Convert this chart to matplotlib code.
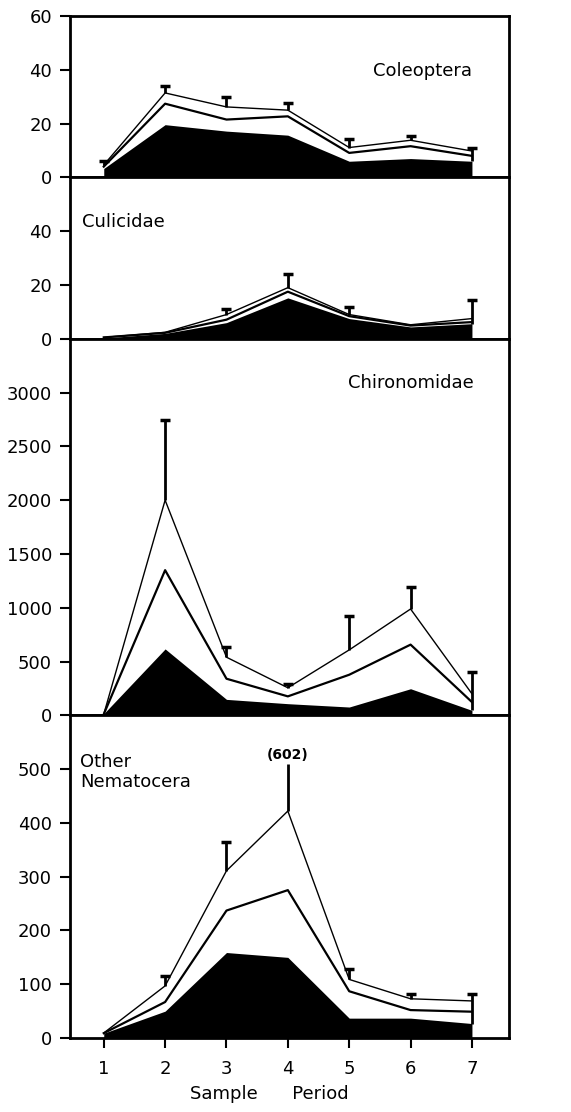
import numpy as np
import matplotlib.pyplot as plt

plt.rcParams['font.family'] = ['DejaVu Sans']

periods = [1, 2, 3, 4, 5, 6, 7]

# Coleoptera
col_fill = [3.3, 19.6, 17.2, 15.7, 6.0, 7.0, 6.0]
col_mid = [4.0, 27.4, 21.5, 22.7, 9.1, 11.6, 8.0]
col_top = [4.6, 31.4, 26.2, 25.0, 11.1, 13.8, 9.8]
col_err = [6.2, 34.0, 30.0, 27.8, 14.4, 15.3, 11.1]

# Culicidae
cul_fill = [0.3, 2.0, 6.0, 15.2, 7.5, 4.4, 5.6]
cul_mid = [0.5, 2.2, 7.1, 17.5, 8.4, 4.9, 6.2]
cul_top = [0.5, 2.4, 9.0, 19.0, 9.0, 5.2, 7.5]
cul_err = [np.nan, np.nan, 10.9, 24.0, 11.7, np.nan, 14.4]

# Chironomidae
chi_fill = [15, 617, 148, 108, 77, 247, 46]
chi_mid = [10, 1349, 340, 176, 377, 657, 123]
chi_top = [10, 2000, 540, 256, 608, 988, 200]
chi_err = [np.nan, 2741, 633, 287, 926, 1188, 407]

# Other Nematocera
nem_fill = [9, 50, 159, 150, 37, 37, 27]
nem_mid = [9, 67, 237, 275, 87, 52, 49]
nem_top = [9.4, 97, 311, 422, 109, 73, 69]
nem_err = [np.nan, 116, 364, 602, 129, 81, 81]

panels = [
    ("Coleoptera", col_fill, col_mid, col_top, col_err, 60, [0, 20, 40, 60]),
    ("Culicidae", cul_fill, cul_mid, cul_top, cul_err, 60, [0, 20, 40]),
    ("Chironomidae", chi_fill, chi_mid, chi_top, chi_err, 3500, [0, 500, 1000, 1500, 2000, 2500, 3000]),
    ("Other\nNematocera", nem_fill, nem_mid, nem_top, nem_err, 600, [0, 100, 200, 300, 400, 500]),
]
label_pos = [(5.38, 39.5, 'left'), (0.64, 43.5, 'left'), (4.98, 3090, 'left'), (0.62, 494, 'left')]
bar_clip = [None, None, None, 510]

fig, axes = plt.subplots(4, 1, figsize=(5.71, 11.12), dpi=100, sharex=True,
                         gridspec_kw={'height_ratios': [3, 3, 7, 6]})
fig.subplots_adjust(left=0.1226, right=0.891, top=0.9856, bottom=0.0665, hspace=0)

x = np.array(periods)
for ax, (name, fill, mid, top, err, ymax, ticks), (lx, ly, ha), clip in zip(axes, panels, label_pos, bar_clip):
    ax.fill_between(x, 0, fill, color='black', lw=0)
    ax.plot(x, mid, color='black', lw=1.6)
    ax.plot(x, top, color='black', lw=1.0)
    err = np.array(err, dtype=float)
    top = np.array(top, dtype=float)
    ok = ~np.isnan(err)
    shown = err.copy()
    if clip is not None:
        shown = np.minimum(shown, clip)
    # the last bar runs down to the filled area
    base = top.copy()
    base[-1] = fill[-1]
    ax.vlines(x[ok], base[ok], shown[ok], color='black', lw=2.0)
    capped = ok & (shown == err)
    ax.scatter(x[capped], err[capped], marker='_', s=60, color='black', linewidths=2.5, zorder=3)
    if clip is not None:
        for xi, e, s in zip(x, err, shown):
            if not np.isnan(e) and e > s:
                ax.text(xi, s + 4, f"({e:.0f})", ha='center', va='bottom', fontsize=10, fontweight='bold')

    ax.text(lx, ly, name, ha=ha, va='center', fontsize=13, linespacing=1.15)
    ax.set_ylim(0, ymax)
    ax.set_yticks(ticks)
    ax.set_xlim(0.45, 7.6)
    ax.set_xticks(periods)
    for s in ax.spines.values():
        s.set_linewidth(2.0)
    ax.tick_params(axis='both', direction='out', length=7, width=1.5, labelsize=13)
    ax.tick_params(axis='y', pad=6)

axes[-1].tick_params(axis='x', pad=9)
axes[-1].set_xlabel("Sample      Period", fontsize=13)
axes[-1].xaxis.set_label_coords(0.455, -0.145)

fig.savefig("out.png", dpi=100)
